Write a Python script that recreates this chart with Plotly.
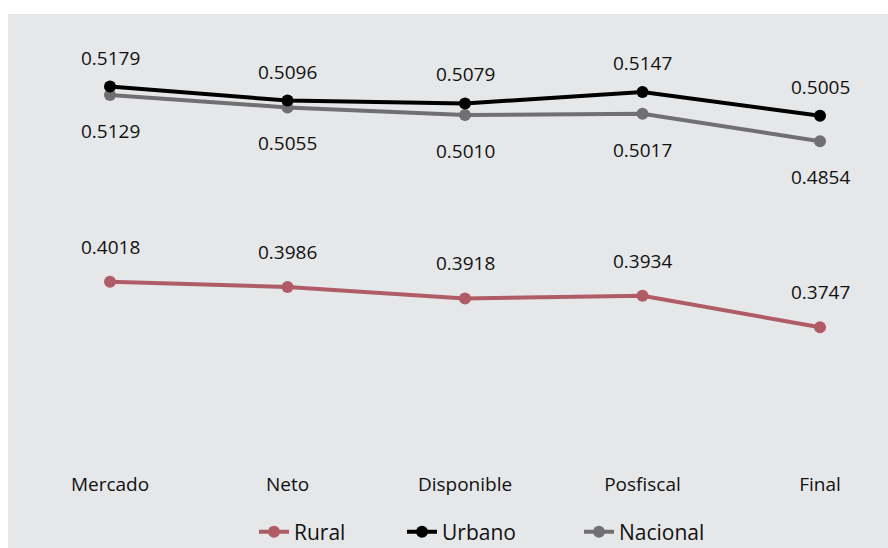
import plotly.graph_objects as go

# Gini coefficients by income concept
etapas = ["Mercado", "Neto", "Disponible", "Posfiscal", "Final"]
rural = [0.4018, 0.3986, 0.3918, 0.3934, 0.3747]
urbano = [0.5179, 0.5096, 0.5079, 0.5147, 0.5005]
nacional = [0.5129, 0.5055, 0.5010, 0.5017, 0.4854]

W, H = 888, 548
L, R, T = 60, 18, 14
PLOT_BOTTOM = 468          # pixel row of the bottom of the data area
PW = W - L - R
PAPER_H = H - T
DOM0 = (H - PLOT_BOTTOM) / PAPER_H

PANEL = "#e6e7e9"
TXT = "#111111"
FONT = "Open Sans, Noto Sans, sans-serif"

series = [
    # (name, values, colour, legend id, label shift in px)
    ("Nacional", nacional, "#707072", "legend3", -36),
    ("Urbano", urbano, "#000000", "legend2", 29),
    ("Rural", rural, "#b05c66", "legend", 35),
]

fig = go.Figure()
annotations = []
for name, vals, col, leg, shift in series:
    fig.add_trace(go.Scatter(
        x=etapas, y=vals, name=name, mode="lines+markers",
        line=dict(color=col, width=4),
        marker=dict(color=col, size=12),
        legend=leg, hoverinfo="skip",
    ))
    for e, v in zip(etapas, vals):
        annotations.append(dict(
            x=e, y=v, xref="x", yref="y", text=f"{v:.4f}",
            showarrow=False, yshift=shift,
            font=dict(size=19, color=TXT, family=FONT),
        ))

# x range so category centres land where the labels sit
step = 177.5
x0 = -(110 - L) / step
x1 = x0 + PW / step

# y range from a linear pixel mapping of the values
k = 1680.0
vmid, ymid = 0.46783, 170.73
ytop = vmid + (ymid - T) / k
ybot = vmid - (PLOT_BOTTOM - ymid) / k

leg_y = (H - 532) / PAPER_H
leg_common = dict(
    orientation="h", yanchor="middle", xanchor="left", y=leg_y,
    bgcolor="rgba(0,0,0,0)", font=dict(size=21, color=TXT, family=FONT),
    itemclick=False, itemdoubleclick=False,
)

fig.update_layout(
    width=W, height=H,
    margin=dict(l=L, r=R, t=T, b=0, autoexpand=False),
    paper_bgcolor=PANEL, plot_bgcolor=PANEL,
    font=dict(family=FONT, color=TXT),
    showlegend=True,
    xaxis=dict(
        type="category", range=[x0, x1], showgrid=False, zeroline=False,
        showline=False, ticks="", tickfont=dict(size=19, color=TXT, family=FONT),
        ticklabelstandoff=3, fixedrange=True,
    ),
    yaxis=dict(
        range=[ybot, ytop], visible=False, fixedrange=True, domain=[DOM0, 1],
    ),
    legend=dict(x=(254 - L) / PW, **leg_common),
    legend2=dict(x=(402 - L) / PW, **leg_common),
    legend3=dict(x=(579 - L) / PW, **leg_common),
    annotations=annotations,
    shapes=[
        dict(type="rect", xref="paper", yref="paper", x0=-1, x1=(8 - L) / PW,
             y0=-1, y1=2, fillcolor="white", line=dict(width=0), layer="below"),
        dict(type="rect", xref="paper", yref="paper", x0=-1, x1=2,
             y0=1, y1=2, fillcolor="white", line=dict(width=0), layer="below"),
    ],
)

fig.write_html("out.html", config=dict(displayModeBar=False))
